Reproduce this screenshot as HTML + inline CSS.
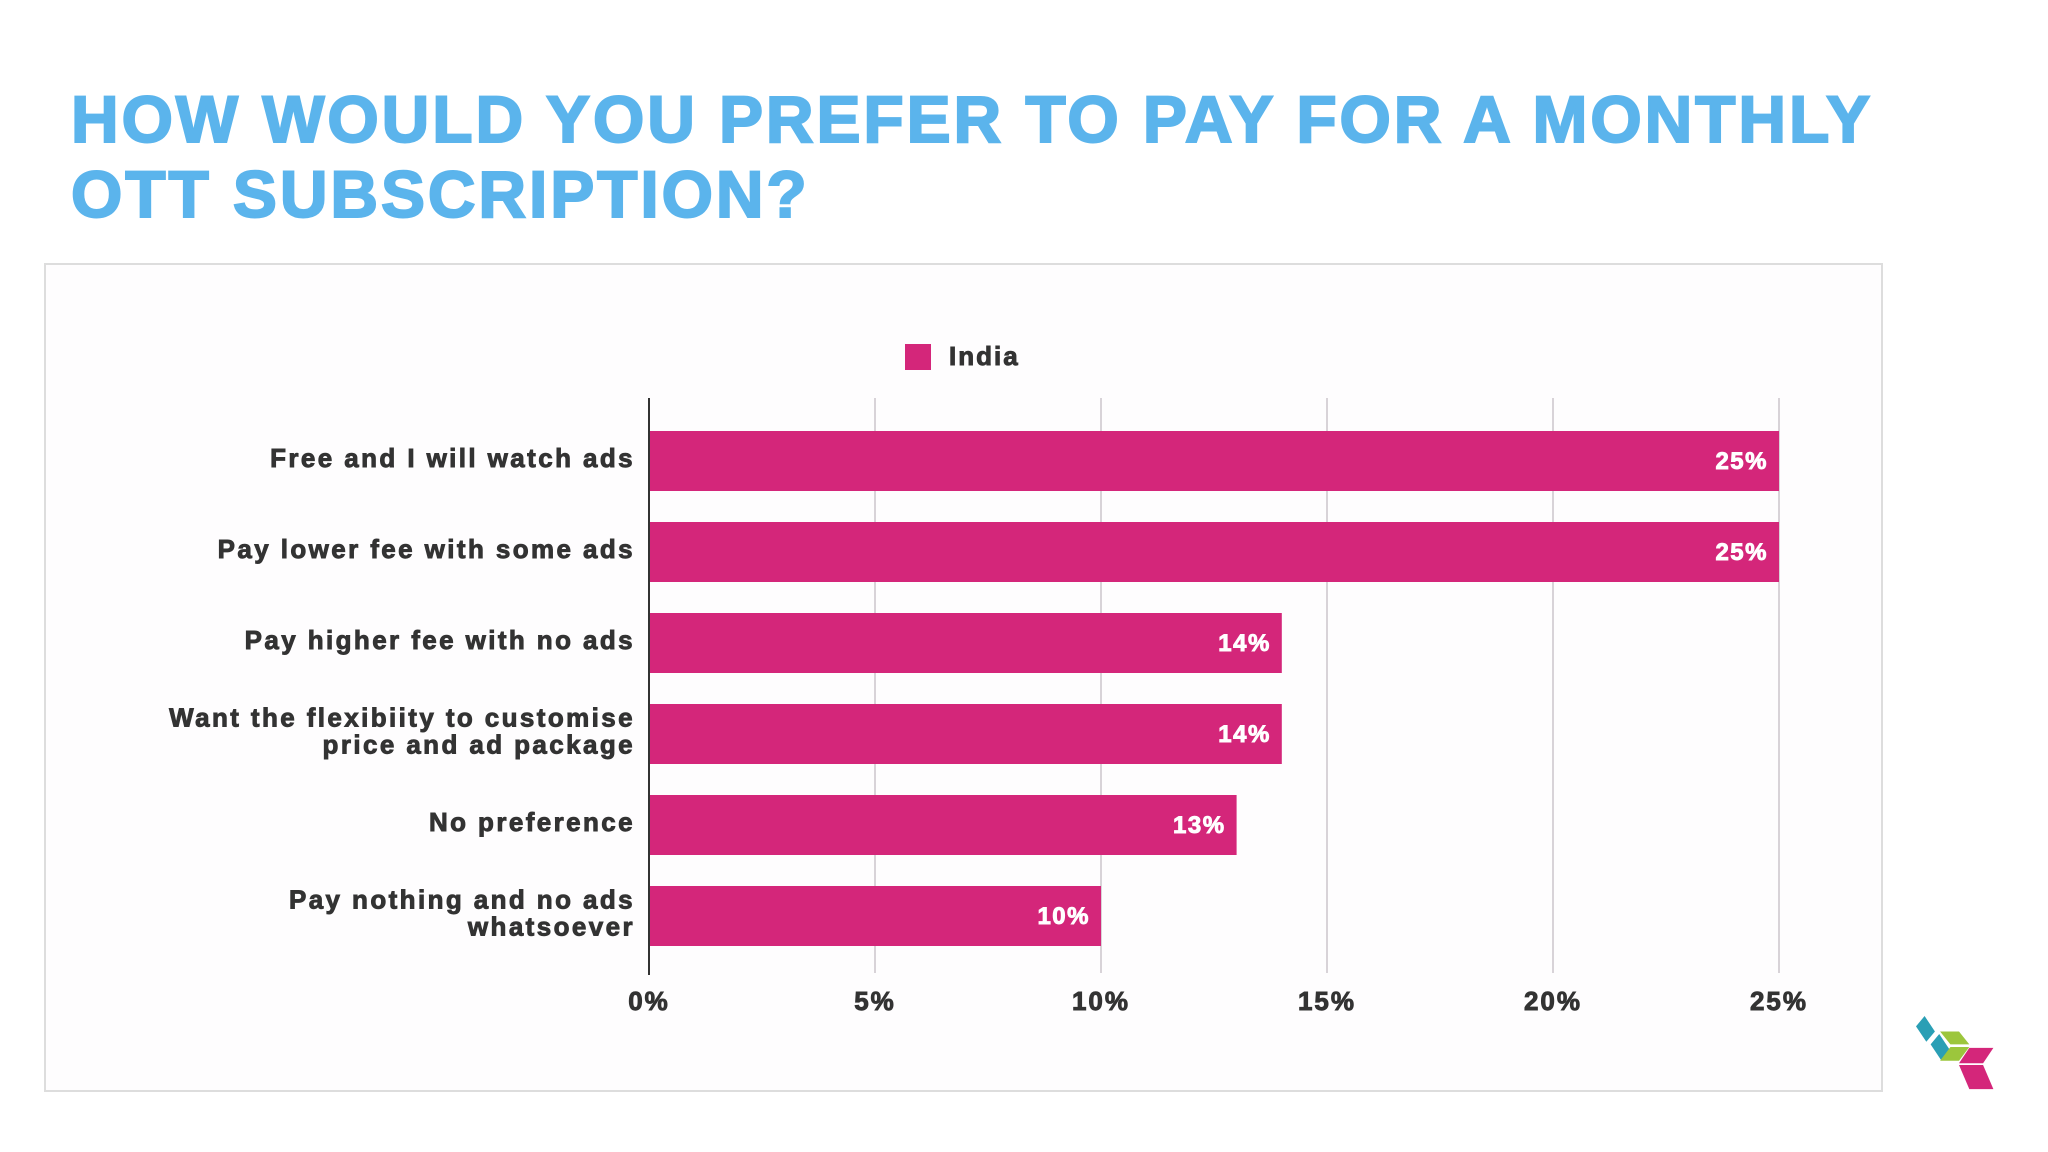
<!DOCTYPE html>
<html><head><meta charset="utf-8"><style>
body{margin:0;width:2048px;height:1152px;background:#fff;overflow:hidden;font-family:"Liberation Sans",sans-serif}
.title{position:absolute;left:71px;top:82px;color:#5bb4ec;font-weight:bold;font-size:66px;line-height:75px;letter-spacing:2.9px;margin:0;-webkit-text-stroke:2px #5bb4ec}
svg text{stroke-width:0.9px}
</style></head><body>
<h1 class="title">HOW WOULD YOU PREFER TO PAY FOR A MONTHLY<br>OTT SUBSCRIPTION?</h1>
<svg id="c" width="2048" height="1152" style="position:absolute;left:0;top:0">
<rect x="45" y="264" width="1837" height="827" fill="#fefdfe" stroke="#ddd" stroke-width="2"/>
<rect x="905" y="344" width="26" height="26" fill="#d4267a"/>
<text x="949" y="365" font-size="26" font-weight="bold" fill="#333" stroke="#333" letter-spacing="2">India</text>
<g id="plot"></g>
<g transform="translate(1916,1016) scale(0.86) translate(-1916,-1016)">
<polygon points="1916,1028 1926,1016 1938,1034 1928,1046" fill="#2a9fb5"/>
<polygon points="1933,1049 1943,1037 1955,1055 1945,1067" fill="#2a9fb5"/>
<polygon points="1944,1034 1966,1034 1978,1049 1956,1049" fill="#9cc63c"/>
<polygon points="1956,1052 1978,1052 1966,1068 1944,1068" fill="#9cc63c"/>
<polygon points="1978,1053 2006,1053 1994,1071 1966,1071" fill="#d4267a"/>
<polygon points="1966,1073 1994,1073 2006,1101 1978,1101" fill="#d4267a"/>
</g>
</svg>
<script>
const categories=["Free and I will watch ads","Pay lower fee with some ads","Pay higher fee with no ads","Want the flexibiity to customise|price and ad package","No preference","Pay nothing and no ads|whatsoever"];
const values=[25,25,14,14,13,10];
const ticks=[0,5,10,15,20,25];
const tickLabels=["0%","5%","10%","15%","20%","25%"];
const NS="http://www.w3.org/2000/svg";
const g=document.getElementById('plot');
const x=v=>649+v*(1779-649)/25;
const yc=i=>460+i*91;
function mk(t,a){const e=document.createElementNS(NS,t);for(const k in a)e.setAttribute(k,a[k]);g.appendChild(e);return e;}
ticks.forEach((t,i)=>{
 if(i>0){const l=mk('line',{x1:x(t),x2:x(t),y1:398,y2:973,stroke:'#d8d3d8','stroke-width':2});
 
 }
 const tx=mk('text',{x:x(t),y:1010,'text-anchor':'middle','font-size':26,'font-weight':'bold',fill:'#333',stroke:'#333','letter-spacing':2});
 tx.textContent=tickLabels[i];
 
 
});
values.forEach((v,i)=>{
 const r=mk('rect',{x:x(0),y:yc(i)-29,width:x(v)-x(0),height:60,fill:'#d4267a'});
 
 
 const vt=mk('text',{x:x(v)-11,y:yc(i)+9,'text-anchor':'end','font-size':24,'font-weight':'bold',fill:'#fff',stroke:'#fff','letter-spacing':1.5});
 vt.textContent=v+'%';
 
 
 const lines=categories[i].split('|');
 lines.forEach((s,j)=>{
  const yy=yc(i)+7+(lines.length>1?(j-0.5)*27:0);
  const ct=mk('text',{x:635,y:yy,'text-anchor':'end','font-size':26,'font-weight':'bold',fill:'#333',stroke:'#333','letter-spacing':2.4});
  ct.textContent=s;
  
  
 });
});
const ax=mk('line',{x1:649,x2:649,y1:398,y2:975,stroke:'#333','stroke-width':2});


</script>
</body></html>
